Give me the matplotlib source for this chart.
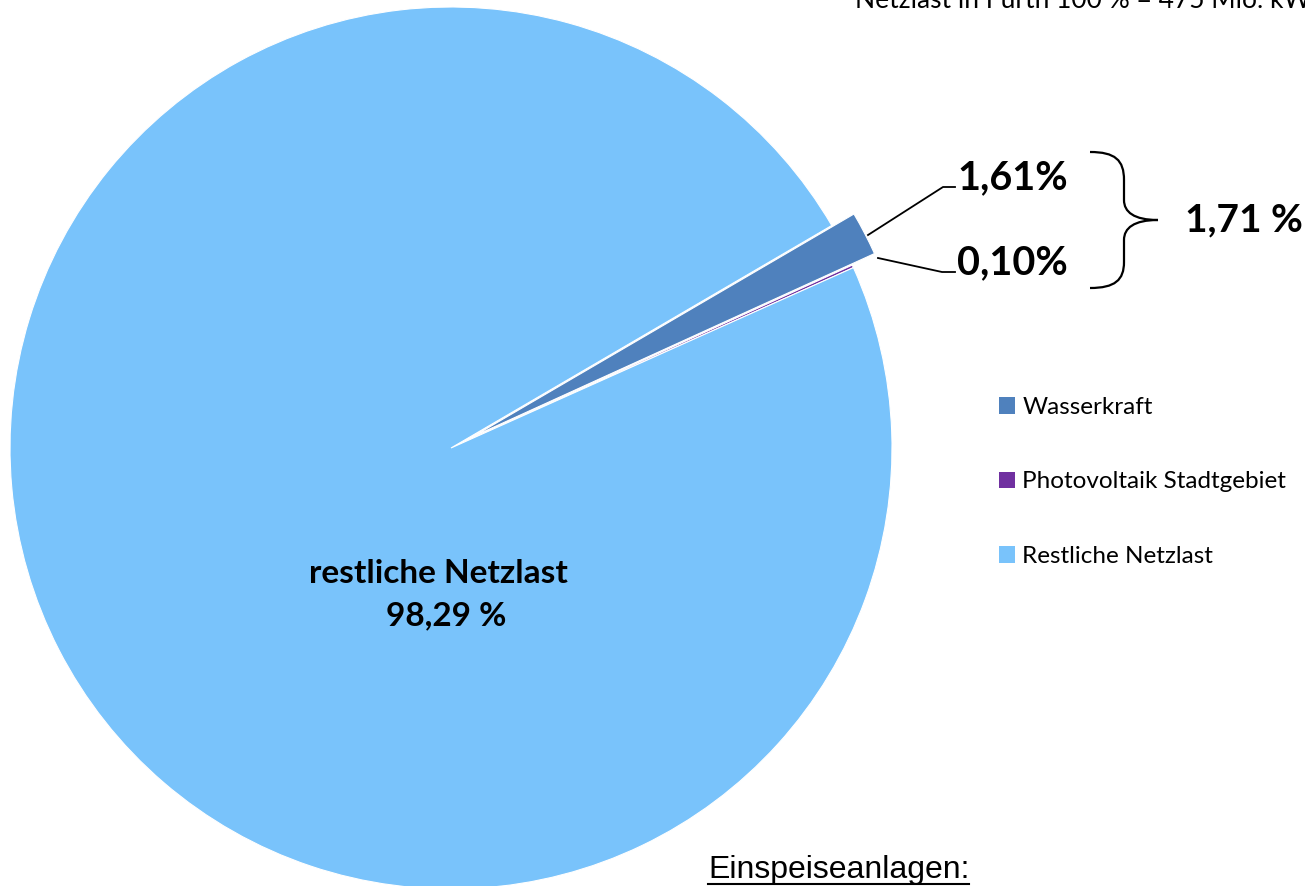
import matplotlib
matplotlib.use("Agg")
import matplotlib.pyplot as plt
from matplotlib.path import Path
from matplotlib.patches import PathPatch, Patch

# data
labels = ["Wasserkraft", "Photovoltaik Stadtgebiet", "Restliche Netzlast"]
shares = [1.61, 0.10, 98.29]
colors = ["#4F81BD", "#7030A0", "#79C3FB"]
value_labels = ["1,61%", "0,10%"]
group_label = "1,71 %"
center_label = "restliche Netzlast\n98,29 %"
title = "Netzlast in Fürth 100 % = 475 Mio. kWh"
footer = "Einspeiseanlagen:"

W, H = 1305, 886
fig = plt.figure(figsize=(W / 100, H / 100), dpi=100)
ax = fig.add_axes([0, 0, 1, 1])

def Y(y):  # pixel row (from top) -> data y
    return H - y

cx, cy, r = 451, 448, 441
ax.pie(shares, colors=colors, startangle=30.3, counterclock=False,
       center=(cx, Y(cy)), radius=r, explode=[25, 0, 0],
       wedgeprops=dict(edgecolor="white", linewidth=0.8))
ax.set_xlim(0, W)
ax.set_ylim(0, H)
ax.set_aspect("equal")
ax.axis("off")

calibri = ["Lato", "DejaVu Sans"]

# leader lines and small labels
ax.plot([868, 943, 955], [Y(235), Y(187), Y(187)], color="black", lw=1.3)
ax.plot([878, 942, 955], [Y(258), Y(272), Y(272)], color="black", lw=1.3)
ax.text(957, Y(178), value_labels[0], fontsize=28.5, fontweight="bold",
        family=calibri, va="center", ha="left")
ax.text(957, Y(263), value_labels[1], fontsize=28.5, fontweight="bold",
        family=calibri, va="center", ha="left")

# curly brace
verts = [(1090, 152), (1115, 152), (1124, 160), (1124, 180),
         (1124, 200), (1124, 212), (1134, 220), (1158, 220),
         (1134, 220), (1124, 228), (1124, 240),
         (1124, 262), (1124, 280), (1115, 288), (1090, 288)]
codes = [Path.MOVETO, Path.CURVE4, Path.CURVE4, Path.CURVE4,
         Path.LINETO, Path.CURVE4, Path.CURVE4, Path.CURVE4,
         Path.CURVE4, Path.CURVE4, Path.CURVE4,
         Path.LINETO, Path.CURVE4, Path.CURVE4, Path.CURVE4]
brace = Path([(x, Y(y)) for x, y in verts], codes)
ax.add_patch(PathPatch(brace, fill=False, lw=1.6, edgecolor="black"))
ax.text(1185, Y(220), group_label, fontsize=28, fontweight="bold",
        family=calibri, va="center", ha="left")

# center label
ax.text(438, Y(583), center_label.split("\n")[0], fontsize=24, fontweight="bold",
        family=calibri, va="baseline", ha="center")
ax.text(446, Y(625), center_label.split("\n")[1], fontsize=24, fontweight="bold",
        family=calibri, va="baseline", ha="center")

# title (cut off at top, as in the source)
ax.text(855, Y(8), title, fontsize=19, family=calibri, va="baseline", ha="left")

# footer, underlined
ft = ax.text(708, Y(878), footer, fontsize=23, family="Liberation Sans",
             va="baseline", ha="left")
fig.canvas.draw()
bb = ft.get_window_extent()
ax.plot([bb.x0, bb.x1], [Y(884), Y(884)], color="black", lw=1.5)

# legend
handles = [Patch(facecolor=c, edgecolor="none") for c in colors]
fig.legend(handles, labels, loc="upper left",
           bbox_to_anchor=(999 / W, 1 - 397 / H), frameon=False,
           prop={"family": calibri, "size": 17.5},
           handlelength=0.66, handleheight=0.66, handletextpad=0.3,
           labelspacing=2.2, borderpad=0, borderaxespad=0)

fig.savefig("out.png", dpi=100)
